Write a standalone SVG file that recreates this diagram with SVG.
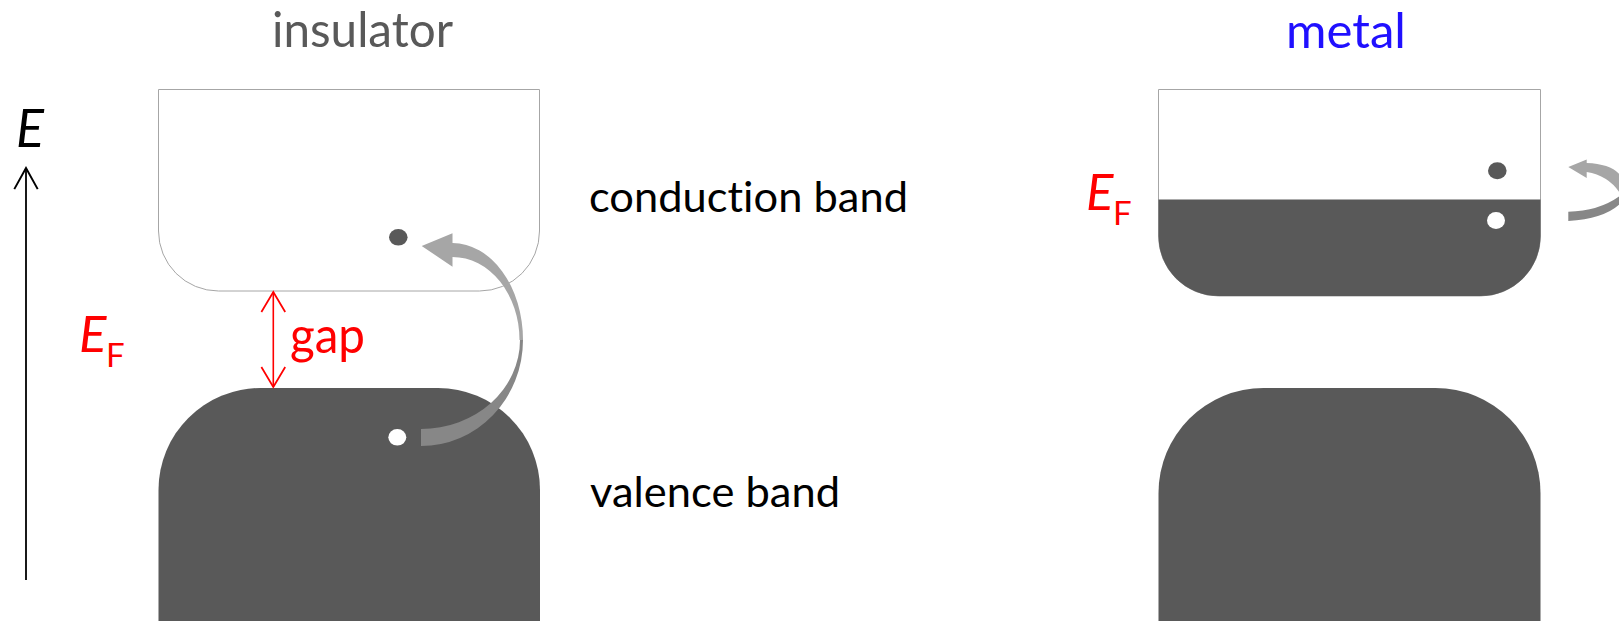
<svg xmlns="http://www.w3.org/2000/svg" width="1619" height="621" viewBox="0 0 1619 621">
<style>
text{font-family:Lato,"Open Sans","Liberation Sans",sans-serif;font-variant-ligatures:none;font-feature-settings:"liga" 0,"clig" 0}
.band{fill:#595959}
.empty{fill:#ffffff;stroke:#a6a6a6;stroke-width:1}
.lbl{font-size:43px;fill:#000}
.title{font-size:49px}
.red{fill:#ff0000}
.ital{font-style:italic}
.arrowLight{fill:#a6a6a6}
.arrowDark{fill:#878787}
.elec{fill:#595959}
.hole{fill:#ffffff}
</style>
<defs>
<marker id="headBlack" markerUnits="userSpaceOnUse" markerWidth="24" markerHeight="26" viewBox="-20 -12 22 24" refX="0" refY="0" orient="auto-start-reverse">
<path d="M-19.5,-10.8 L0,0 L-19.5,10.8" fill="none" stroke="#000" stroke-width="1.8"/>
</marker>
<marker id="headRed" markerUnits="userSpaceOnUse" markerWidth="24" markerHeight="26" viewBox="-20 -12 22 24" refX="0" refY="0" orient="auto-start-reverse">
<path d="M-18.5,-11 L0,0 L-18.5,11" fill="none" stroke="#ff0000" stroke-width="1.6"/>
</marker>
</defs>

<g id="axis-label"><text class="ital" x="16" y="146.7" font-size="52">E</text></g>

<g id="insulator-title"><text class="title" x="272" y="47" fill="#595959" textLength="181" lengthAdjust="spacingAndGlyphs">insulator</text></g>
<g id="metal-title"><text class="title" x="1286" y="48" fill="#2010ff" textLength="120" lengthAdjust="spacingAndGlyphs">metal</text></g>

<g id="insulator-conduction-band">
<path class="empty" d="M158.5,89.5 H539.5 V231 A60,60 0 0 1 479.5,291 H218.5 A60,60 0 0 1 158.5,231 Z"/>
<ellipse class="elec" cx="398.3" cy="237.3" rx="9.3" ry="8.3"/>
</g>
<g id="insulator-valence-band">
<path class="band" d="M158.5,490 A102,102 0 0 1 260.5,388 H438 A102,102 0 0 1 540,490 V630 H158.5 Z"/>
<ellipse class="hole" cx="397.3" cy="437.3" rx="9" ry="8.3"/>
</g>

<g id="insulator-EF">
<text class="red ital" x="79" y="351.7" font-size="51">E</text>
<text class="red" x="106" y="366.7" font-size="33">F</text>
</g>
<g id="gap-label"><text class="red" x="290" y="353.3" font-size="51" textLength="75" lengthAdjust="spacingAndGlyphs">gap</text></g>

<g id="conduction-label"><text class="lbl" x="589" y="211.7" textLength="319" lengthAdjust="spacingAndGlyphs">conduction band</text></g>
<g id="valence-label"><text class="lbl" x="590" y="506.7" textLength="250" lengthAdjust="spacingAndGlyphs">valence band</text></g>

<g id="metal-band">
<path class="empty" d="M1158.5,89.5 H1540.5 V236 A60,60 0 0 1 1480.5,296 H1218.5 A60,60 0 0 1 1158.5,236 Z"/>
<path class="band" d="M1158.5,199.5 H1540.5 V236 A60,60 0 0 1 1480.5,296 H1218.5 A60,60 0 0 1 1158.5,236 Z"/>
<ellipse class="elec" cx="1497.3" cy="170.8" rx="9.3" ry="8.5"/>
<ellipse class="hole" cx="1496" cy="220.5" rx="9" ry="8.5"/>
</g>
<g id="metal-lower-band">
<path class="band" d="M1158.5,493 A105,105 0 0 1 1263.5,388 H1435.5 A105,105 0 0 1 1540.5,493 V630 H1158.5 Z"/>
</g>
<g id="metal-EF">
<text class="red ital" x="1086" y="209.5" font-size="51">E</text>
<text class="red" x="1113" y="224.5" font-size="33">F</text>
</g>

<g id="connectors">
<line x1="26" y1="580" x2="26" y2="168" stroke="#000" stroke-width="1.8" marker-end="url(#headBlack)"/>
<line x1="273.3" y1="292" x2="273.3" y2="387" stroke="#ff0000" stroke-width="1.6" marker-start="url(#headRed)" marker-end="url(#headRed)"/>
<path class="arrowDark" d="M421,446 A102,106 0 0 0 523,340 L520,340 A99,89 0 0 1 421,429 Z"/>
<path class="arrowLight" d="M523,340 A71,97 0 0 0 452.5,243 L452.5,233.3 L421.7,246 L452.5,266.7 L452.5,257 A67,83 0 0 1 519.5,340 Z"/>
<path class="arrowDark" d="M1568.3,221 Q1605,219 1621,203 L1621,195 Q1600,211 1568.3,211.7 Z"/>
<path class="arrowLight" d="M1586.7,159.5 L1568.3,167 L1586.7,178 L1586.7,172 Q1610,176 1621,195 L1621,176 Q1612,164 1586.7,163 Z"/>
</g>
</svg>
